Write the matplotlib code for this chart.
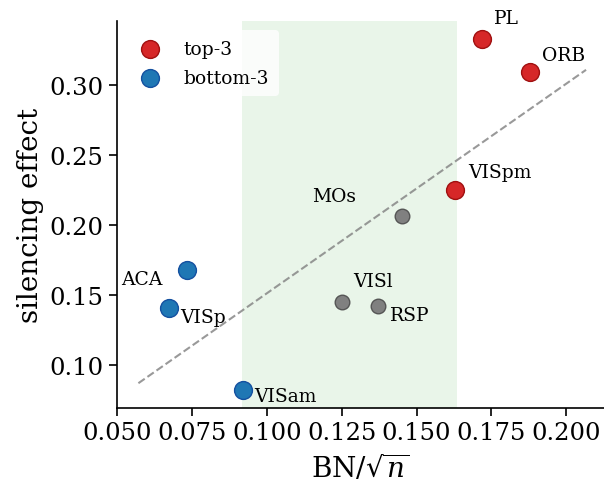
import numpy as np
import matplotlib
matplotlib.use("Agg")
import matplotlib.pyplot as plt

plt.rcParams["font.family"] = "DejaVu Serif"
plt.rcParams["mathtext.fontset"] = "dejavuserif"

areas = ["PL", "ORB", "VISpm", "MOs", "VISl", "RSP", "ACA", "VISp", "VISam"]
bn = [0.1719, 0.1879, 0.1630, 0.1450, 0.1250, 0.1370, 0.0732, 0.0672, 0.0919]
effect = [0.3326, 0.3091, 0.2250, 0.2066, 0.1448, 0.1419, 0.1679, 0.1409, 0.0824]
group = ["top", "top", "top", "mid", "mid", "mid", "bottom", "bottom", "bottom"]

fit_x = [0.0570, 0.2067]
fit_y = [0.0869, 0.3107]
span = [0.0916, 0.1634]

# label offsets in points
offsets = {
    "PL": (8.6, 15.5), "ORB": (9, 12), "VISpm": (9, 13), "MOs": (-64.5, 14),
    "VISl": (8.4, 15.5), "RSP": (9, -6.5), "ACA": (-47.5, -6.5), "VISp": (8, -6.5),
    "VISam": (8.4, -5),
}

fig = plt.figure(figsize=(6.04, 4.85), dpi=100)
ax = fig.add_axes([0.193, 0.157, 0.807, 0.798])

ax.axvspan(span[0], span[1], color="tab:green", alpha=0.1, lw=0, zorder=0)
ax.plot(fit_x, fit_y, ls="--", color="gray", alpha=0.8, lw=1.5, zorder=1)

styles = {
    "top": dict(c="#d62728", edgecolors="#a01010", label="top-3"),
    "bottom": dict(c="#1f77b4", edgecolors="#1450a0", label="bottom-3"),
    "mid": dict(c="gray", edgecolors="#555555", label=None),
}
for g in ["top", "bottom", "mid"]:
    idx = [i for i, k in enumerate(group) if k == g]
    s = 110 if g == "mid" else 165
    ax.scatter([bn[i] for i in idx], [effect[i] for i in idx], s=s,
               linewidths=1, zorder=3, **styles[g])

for name, x, y in zip(areas, bn, effect):
    dx, dy = offsets[name]
    ax.annotate(name, (x, y), xytext=(dx, dy), textcoords="offset points",
                fontsize=13.5, ha="left", va="center")

ax.set_xlim(0.0497, 0.2127)
ax.set_ylim(0.0693, 0.3457)
ax.set_xticks([0.050, 0.075, 0.100, 0.125, 0.150, 0.175, 0.200])
ax.set_yticks([0.10, 0.15, 0.20, 0.25, 0.30])
ax.tick_params(labelsize=17.5, length=6, width=1.2)
ax.spines["top"].set_visible(False)
ax.spines["right"].set_visible(False)
ax.spines["left"].set_linewidth(1.2)
ax.spines["bottom"].set_linewidth(1.2)
ax.set_xlabel(r"BN/$\sqrt{n}$", fontsize=20, labelpad=6)
ax.set_ylabel("silencing effect", fontsize=20)

leg = ax.legend(loc="upper left", fontsize=13.5, frameon=True, framealpha=0.8,
                edgecolor="none", borderpad=0.5, labelspacing=0.6,
                bbox_to_anchor=(-0.008, 1.0))

fig.savefig("out.png", dpi=100)
